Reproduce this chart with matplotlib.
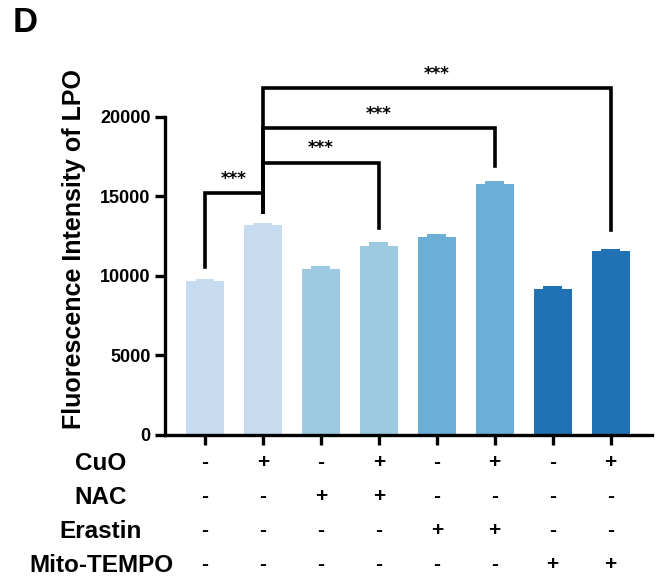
import matplotlib
matplotlib.use("Agg")
import matplotlib.pyplot as plt
import matplotlib.transforms as mtransforms
import numpy as np

plt.rcParams['font.family'] = ['Liberation Sans', 'DejaVu Sans']

# ---- data ----
groups = ["G1", "G2", "G3", "G4", "G5", "G6", "G7", "G8"]
means = [9650, 13200, 10450, 11900, 12450, 15800, 9150, 11550]
sems = [170, 150, 160, 200, 180, 180, 180, 160]
bar_colors = ["#c6dbef", "#c6dbef", "#9ecae1", "#9ecae1",
              "#6baed6", "#6baed6", "#2171b5", "#2171b5"]
row_labels = ["CuO", "NAC", "Erastin", "Mito-TEMPO"]
row_signs = [
    ["-", "+", "-", "+", "-", "+", "-", "+"],
    ["-", "-", "+", "+", "-", "-", "-", "-"],
    ["-", "-", "-", "-", "+", "+", "-", "-"],
    ["-", "-", "-", "-", "-", "-", "+", "+"],
]
# significance brackets: (i, j, bracket height, left leg end, right leg end, label)
brackets = [
    (0, 1, 15200, 10570, 14000, "***"),
    (1, 3, 17100, 14000, 13000, "***"),
    (1, 5, 19300, 14000, 16900, "***"),
    (1, 7, 21800, 14000, 12900, "***"),
]
yticks = [0, 5000, 10000, 15000, 20000]
ylabel = "Fluorescence Intensity of LPO"

fig = plt.figure(figsize=(6.59, 5.82), dpi=100)
ax = fig.add_axes([0.2504, 0.2534, 0.989 - 0.2504, 0.799 - 0.2534])

x = np.arange(len(groups))
width = 0.655
ax.bar(x, means, width=width, color=bar_colors, zorder=2)
ax.bar(x, sems, bottom=means, width=width * 0.5, color=bar_colors, zorder=2)

ax.set_xlim(-0.69, 7.71)
ax.set_ylim(0, 20000)
ax.set_yticks(yticks)
ax.set_yticklabels([str(t) for t in yticks], fontsize=13, fontweight='bold')
ax.set_xticks(x)
ax.set_xticklabels([])
ax.tick_params(axis='both', length=7, width=2.4)
ax.spines['top'].set_visible(False)
ax.spines['right'].set_visible(False)
for s in ['left', 'bottom']:
    ax.spines[s].set_linewidth(2.4)
ax.set_ylabel(ylabel, fontsize=18, fontweight='bold')
ax.yaxis.set_label_coords(86 / 659, 0.584,
                          transform=mtransforms.blended_transform_factory(fig.transFigure, ax.transAxes))

# brackets
for i, j, h, li, rj, lab in brackets:
    ax.plot([i, i, j, j], [li, h, h, rj], color='black', lw=2.6,
            clip_on=False, solid_joinstyle='miter', zorder=3)
    ax.text((i + j) / 2, h + 350, lab, ha='center', va='bottom',
            fontsize=12, fontweight='bold', family='DejaVu Sans')

# condition table
trans = mtransforms.blended_transform_factory(ax.transData, fig.transFigure)
row_y = [463, 497, 531, 565]
for lab, signs, yp in zip(row_labels, row_signs, row_y):
    fy = 1 - yp / 582
    fig.text(101 / 659, fy, lab, ha='center', va='center',
             fontsize=17.5, fontweight='bold')
    for xi, s in zip(x, signs):
        ax.text(xi, fy, s, transform=trans, ha='center', va='center',
                fontsize=15, fontweight='bold')

fig.text(25 / 659, 1 - 22 / 582, "D", ha='center', va='center',
         fontsize=25, fontweight='bold')

fig.savefig("out.png", dpi=100)
